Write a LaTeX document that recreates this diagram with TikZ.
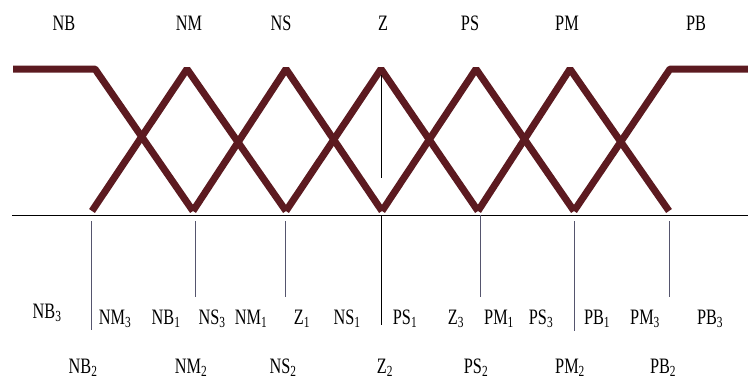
\documentclass[tikz,border=0pt]{standalone}
\usepackage{fontspec}
\setmainfont{Liberation Serif}
\usetikzlibrary{positioning, calc}
\definecolor{mfred}{RGB}{92,26,32}
\definecolor{tickgray}{RGB}{85,85,110}

\begin{document}
\begin{tikzpicture}[x=1pt, y=-1pt,
  mf/.style={draw=mfred, line width=7pt, line join=bevel},
  lbl/.style={font=\fontsize{22}{24}\selectfont, inner sep=0pt, anchor=base, xscale=0.74},
  tick/.style={draw=tickgray, line width=0.8pt}]
  \useasboundingbox (0,0) rectangle (748,378);

  % corners of the membership functions
  \coordinate (L) at (13,69);
  \coordinate (R) at (748,69);
  \coordinate (p1) at (95,69);  \coordinate (f1) at (92,211);
  \coordinate (p2) at (187,69); \coordinate (f2) at (193,211);
  \coordinate (p3) at (286,69); \coordinate (f3) at (286,211);
  \coordinate (p4) at (381,69); \coordinate (f4) at (382,211);
  \coordinate (p5) at (476,69); \coordinate (f5) at (478,211);
  \coordinate (p6) at (570,69); \coordinate (f6) at (574,211);
  \coordinate (p7) at (670,69); \coordinate (f7) at (669,211);

  % axis
  \coordinate (A0) at (12,215);
  \coordinate (A1) at (748,215);
  \draw [line width=0.9pt] (A0) -- (A1);

  % membership functions
  \draw [mf] (L) -- (p1) -- (f2);
  \draw [mf] (f1) -- (p2) -- (f3);
  \draw [mf] (f2) -- (p3) -- (f4);
  \draw [mf] (f3) -- (p4) -- (f5);
  \draw [mf] (f4) -- (p5) -- (f6);
  \draw [mf] (f5) -- (p6) -- (f7);
  \draw [mf] (f6) -- (p7) -- (R);

  % vertical marks
  \draw [line width=0.8pt] (381,75) -- (381,178);
  \draw [line width=0.8pt] (381,215) -- (381,325);
  \draw [tick] (91,221) -- (91,330);
  \draw [tick] (195,221) -- (195,297);
  \draw [tick] (285,221) -- (285,297);
  \draw [tick] (480,215) -- (480,297);
  \draw [tick] (574,221) -- (574,331);
  \draw [tick] (669,221) -- (669,297);

  % fuzzy set names
  \node (NB) [lbl] at (64,30) {NB};
  \node (NM) [lbl] at (189,30) {NM};
  \node (NS) [lbl] at (281,30) {NS};
  \node (Z)  [lbl] at (383,30) {Z};
  \node (PS) [lbl] at (470,30) {PS};
  \node (PM) [lbl] at (567,30) {PM};
  \node (PB) [lbl] at (696,30) {PB};

  % first row of interval labels
  \node (NB3) [lbl] at (47,318)  {NB\textsubscript{3}};
  \node (NM3) [lbl] at (115,324) {NM\textsubscript{3}};
  \node (NB1) [lbl] at (166,324) {NB\textsubscript{1}};
  \node (NS3) [lbl] at (212,324) {NS\textsubscript{3}};
  \node (NM1) [lbl] at (251,324) {NM\textsubscript{1}};
  \node (Z1)  [lbl] at (302,324) {Z\textsubscript{1}};
  \node (NS1) [lbl] at (347,324) {NS\textsubscript{1}};
  \node (PS1) [lbl] at (405,324) {PS\textsubscript{1}};
  \node (Z3)  [lbl] at (456,324) {Z\textsubscript{3}};
  \node (PM1) [lbl] at (499,324) {PM\textsubscript{1}};
  \node (PS3) [lbl] at (541,324) {PS\textsubscript{3}};
  \node (PB1) [lbl] at (597,324) {PB\textsubscript{1}};
  \node (PM3) [lbl] at (645,324) {PM\textsubscript{3}};
  \node (PB3) [lbl] at (710,324) {PB\textsubscript{3}};

  % second row of interval labels
  \node (NB2) [lbl] at (83,373)  {NB\textsubscript{2}};
  \node (NM2) [lbl] at (191,373) {NM\textsubscript{2}};
  \node (NS2) [lbl] at (283,373) {NS\textsubscript{2}};
  \node (Z2)  [lbl] at (385,373) {Z\textsubscript{2}};
  \node (PS2) [lbl] at (476,373) {PS\textsubscript{2}};
  \node (PM2) [lbl] at (570,373) {PM\textsubscript{2}};
  \node (PB2) [lbl] at (663,373) {PB\textsubscript{2}};
\end{tikzpicture}
\end{document}
